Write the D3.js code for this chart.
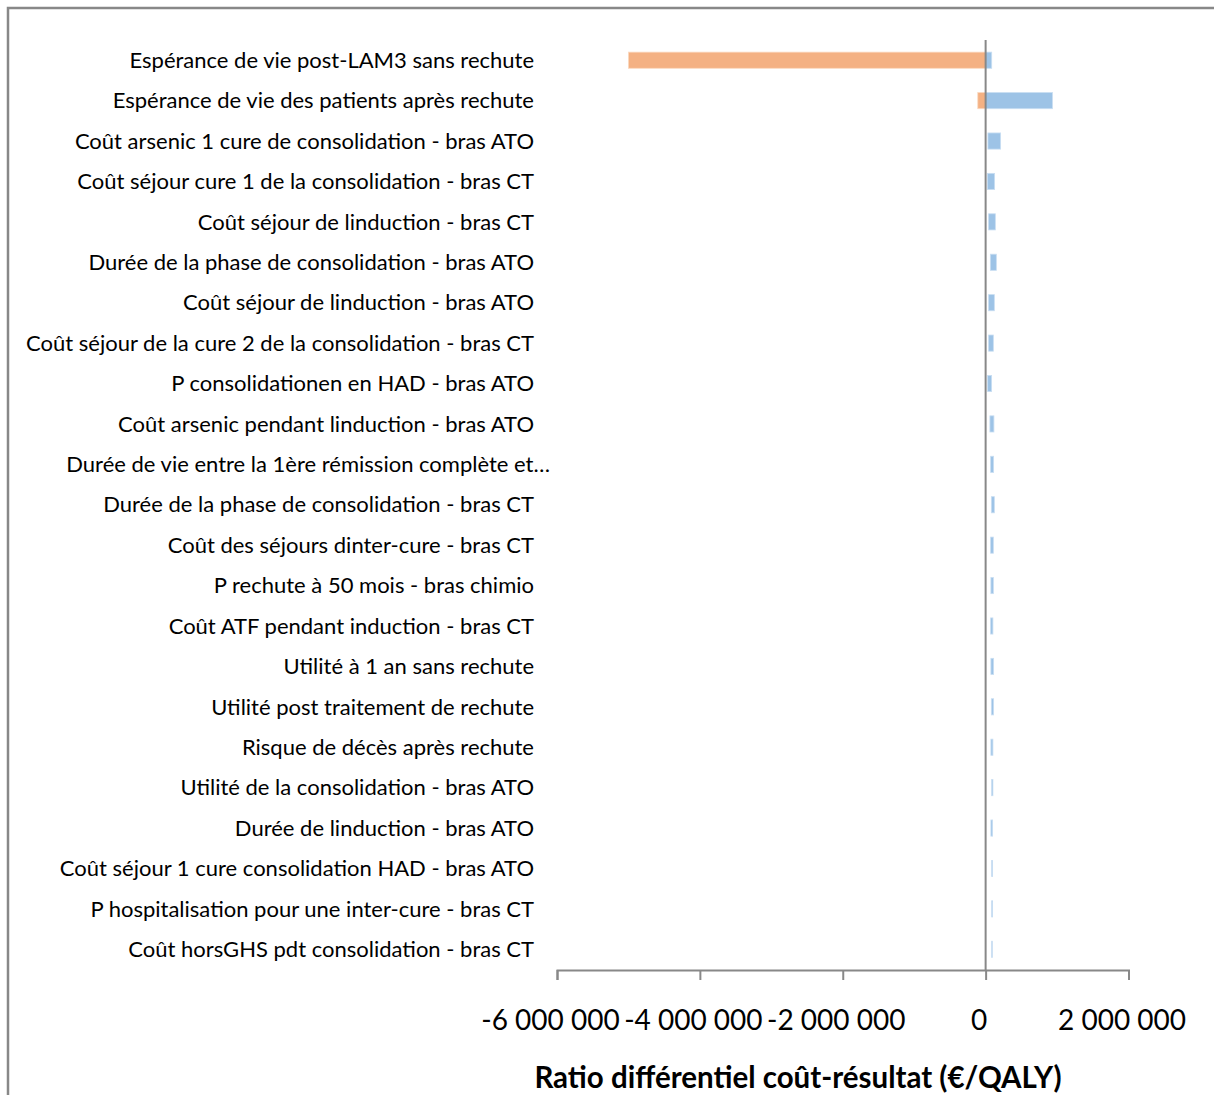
<!DOCTYPE html>
<html>
<head>
<meta charset="utf-8">
<script src="https://cdn.jsdelivr.net/npm/d3@7"></script>
<style>
    body { margin: 0; background: #fff; }
    svg { display: block; }
</style>
</head>
<body>
<div id="tornado"></div>
<script>
// parameters, top to bottom
var categories = [
    'Espérance de vie post-LAM3 sans rechute',
    'Espérance de vie des patients après rechute',
    'Coût arsenic 1 cure de consolidation - bras ATO',
    'Coût séjour cure 1 de la consolidation - bras CT',
    'Coût séjour de linduction - bras CT',
    'Durée de la phase de consolidation - bras ATO',
    'Coût séjour de linduction - bras ATO',
    'Coût séjour de la cure 2 de la consolidation - bras CT',
    'P consolidationen en HAD - bras ATO',
    'Coût arsenic pendant linduction - bras ATO',
    'Durée de vie entre la 1ère rémission complète et…',
    'Durée de la phase de consolidation - bras CT',
    'Coût des séjours dinter-cure - bras CT',
    'P rechute à 50 mois - bras chimio',
    'Coût ATF pendant induction - bras CT',
    'Utilité à 1 an sans rechute',
    'Utilité post traitement de rechute',
    'Risque de décès après rechute',
    'Utilité de la consolidation - bras ATO',
    'Durée de linduction - bras ATO',
    'Coût séjour 1 cure consolidation HAD - bras ATO',
    'P hospitalisation pour une inter-cure - bras CT',
    'Coût horsGHS pdt consolidation  - bras CT'
];

// ICER at low / high bound of each parameter (€/QALY)
var lowValues = [-5000000, -110000, 32000, 24000, 42000, 66000, 42000, 42000, 28000, 60000,
    70000, 80000, 70000, 74000, 70000, 74000, 80000, 74000, 84000, 74000, 84000, 84000, 84000];
var highValues = [85000, 935000, 210000, 126000, 136000, 150000, 122000, 108000, 84000, 116000,
    112000, 122000, 108000, 108000, 102000, 112000, 112000, 102000, 102000, 98000, 98000, 98000, 94000];

var tickValues = [-6000000, -4000000, -2000000, 0, 2000000];
var axisTitle = 'Ratio différentiel coût-résultat (€/QALY)';

var view = { width: 1214, height: 1095 };
var font = 'Lato, "Open Sans", sans-serif';
var colorNeg = '#F4B183', colorPos = '#9DC3E6', gridGray = '#888888';

var rows = categories.map(function(name, i) {
    return { name: name, low: lowValues[i], high: highValues[i] };
});

var svg = d3.select('#tornado')
    .append('svg')
    .attr('width', view.width)
    .attr('height', view.height);

// outer frame (chart area is cropped on right / bottom)
svg.append('path')
    .attr('d', 'M8,' + (view.height + 5) + 'V8H' + (view.width + 5))
    .attr('fill', 'none')
    .attr('stroke', gridGray)
    .attr('stroke-width', 2.5);

var x = d3.scaleLinear()
    .domain([-6000000, 2000000])
    .range([557, 1128.5]);

var y = d3.scaleBand()
    .domain(categories)
    .range([40, 969.5])
    .paddingInner(0.6)
    .paddingOuter(0.3);

var frLocale = d3.formatLocale({ decimal: ',', thousands: ' ', grouping: [3], currency: ['', ' €'], minus: '-' });
var fmt = frLocale.format(',d');

// bars: part below zero in orange, part above zero in blue
var barGroup = svg.append('g').attr('class', 'bars');

barGroup.selectAll('rect.neg')
    .data(rows.filter(function(d) { return d.low < 0; }))
    .enter().append('rect')
    .attr('class', 'neg')
    .attr('x', function(d) { return x(d.low); })
    .attr('y', function(d) { return y(d.name); })
    .attr('width', function(d) { return x(Math.min(d.high, 0)) - x(d.low); })
    .attr('height', y.bandwidth())
    .attr('fill', colorNeg)
    .attr('stroke', '#fbd9c0')
    .attr('stroke-width', 0.8);

barGroup.selectAll('rect.pos')
    .data(rows.filter(function(d) { return d.high > 0; }))
    .enter().append('rect')
    .attr('class', 'pos')
    .attr('x', function(d) { return x(Math.max(d.low, 0)); })
    .attr('y', function(d) { return y(d.name); })
    .attr('width', function(d) { return x(d.high) - x(Math.max(d.low, 0)); })
    .attr('height', y.bandwidth())
    .attr('fill', colorPos)
    .attr('stroke', '#c9def2')
    .attr('stroke-width', 0.8);

// vertical zero line over the bars
svg.append('line')
    .attr('x1', x(0)).attr('x2', x(0))
    .attr('y1', 40).attr('y2', 970)
    .attr('stroke', gridGray)
    .attr('stroke-width', 2);

// category labels
svg.append('g').attr('class', 'labels')
    .selectAll('text')
    .data(rows)
    .enter().append('text')
    .attr('x', function(d) { return /…$/.test(d.name) ? 550 : 534; })
    .attr('y', function(d) { return y(d.name) + y.bandwidth() / 2; })
    .attr('dy', '0.35em')
    .attr('text-anchor', 'end')
    .style('font-family', font)
    .style('font-size', '22px')
    .style('fill', '#000')
    .text(function(d) { return d.name; });

// x axis
var axis = svg.append('g')
    .attr('transform', 'translate(0,970)')
    .call(d3.axisBottom(x).tickValues(tickValues).tickFormat(fmt).tickSize(10).tickSizeOuter(10));

axis.select('.domain').attr('stroke', gridGray).attr('stroke-width', 2);
axis.selectAll('.tick line').attr('stroke', gridGray).attr('stroke-width', 2);
axis.selectAll('.tick text')
    .attr('y', 60)
    .attr('dy', 0)
    .attr('dx', -7)
    .style('font-family', font)
    .style('font-size', '28px')
    .style('fill', '#000');

svg.append('text')
    .attr('x', 798)
    .attr('y', 1088)
    .attr('text-anchor', 'middle')
    .style('font-family', font)
    .style('font-weight', 'bold')
    .style('font-size', '29.5px')
    .style('fill', '#000')
    .text(axisTitle);
</script>
</body>
</html>
